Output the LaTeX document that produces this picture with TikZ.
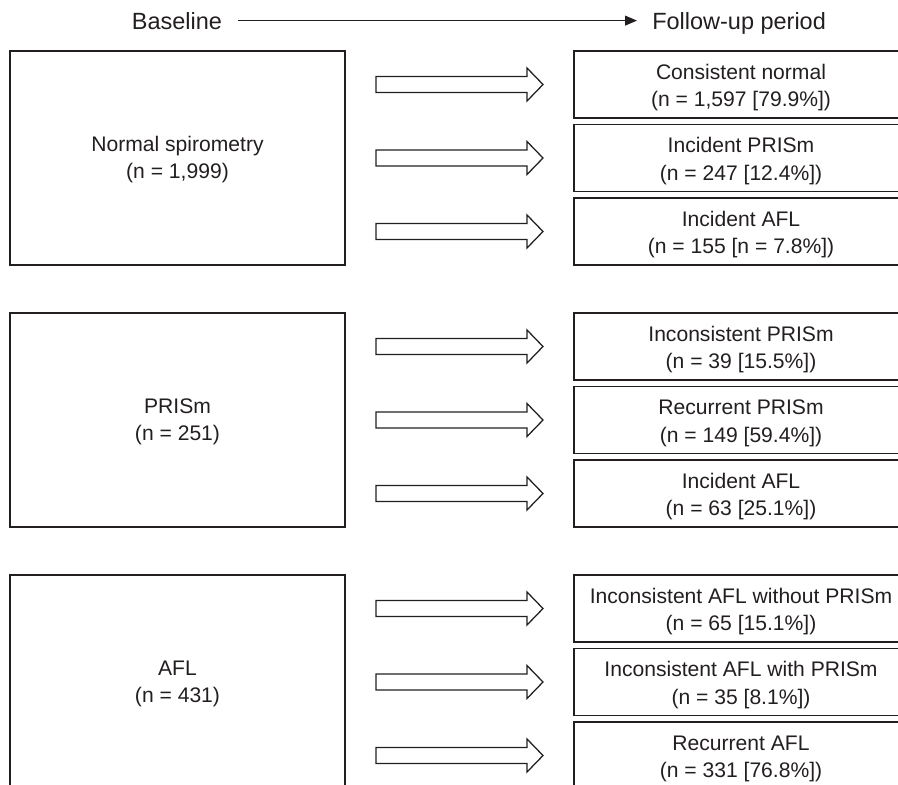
\documentclass[tikz,border=0pt]{standalone}
\usepackage{fontspec}
\setmainfont{Liberation Sans}
\usepackage{tikz}
\usetikzlibrary{arrows.meta,positioning}
\definecolor{tinta}{RGB}{35,31,32}
\tikzset{
  inicio/.style={rectangle,draw=tinta,line width=0.9pt,text=tinta,
    minimum width=8.375cm,minimum height=5.35cm,inner sep=0pt,align=center,
    text height=29.4pt,text depth=0pt,font=\fontsize{15}{19}\selectfont},
  desfecho/.style={rectangle,draw=tinta,line width=0.9pt,text=tinta,
    minimum width=8.35cm,minimum height=1.675cm,inner sep=0pt,align=center,
    text height=31.4pt,text depth=0pt,font=\fontsize{15}{19.4}\selectfont},
  titulo/.style={inner sep=0pt,text=tinta,font=\fontsize{16.7}{20}\selectfont},
  seta/.style={-{Triangle[length=8.5pt,width=7pt]},line width=0.9pt,tinta},
  setabloco/.style={draw=tinta,fill=white,line width=0.9pt,line join=miter}
}
\begin{document}
\begin{tikzpicture}[x=0.025cm,y=-0.025cm]
\useasboundingbox (0,0) rectangle (898,784);
\clip (0,0) rectangle (898,784);
\node[titulo,anchor=base] (base) at (177,29) {Baseline};
\node[titulo,anchor=base west] (seguimento) at (652,29) {Follow-up period};
\draw[seta,shorten <=0.4cm,shorten >=0.375cm] (base.east) -- (base.east -| seguimento.west);

\node[inicio] (normal) at (177.5,158) {Normal spirometry\\(n = 1,999)};
\node[inicio] (prism) at (177.5,420) {PRISm\\(n = 251)};
\node[inicio] (afl) at (177.5,682) {AFL\\(n = 431)};

\node[desfecho] (consist) at (741,84.5) {Consistent normal\\(n = 1,597 [79.9\%])};
\node[desfecho] (incprism) at (741,158) {Incident PRISm\\(n = 247 [12.4\%])};
\node[desfecho] (incafl) at (741,231.5) {Incident AFL\\(n = 155 [n = 7.8\%])};

\node[desfecho] (inconsprism) at (741,346.5) {Inconsistent PRISm\\(n = 39 [15.5\%])};
\node[desfecho] (recprism) at (741,420) {Recurrent PRISm\\(n = 149 [59.4\%])};
\node[desfecho] (incaflb) at (741,493.5) {Incident AFL\\(n = 63 [25.1\%])};

\node[desfecho] (semprism) at (741,608.5) {Inconsistent AFL without PRISm\\(n = 65 [15.1\%])};
\node[desfecho] (comprism) at (741,682) {Inconsistent AFL with PRISm\\(n = 35 [8.1\%])};
\node[desfecho] (recafl) at (741,755.5) {Recurrent AFL\\(n = 331 [76.8\%])};

\foreach \g in {0,262,524}
  \foreach \d in {84.5,158,231.5}{
    \pgfmathsetmacro\yy{\g+\d}
    \draw[setabloco] (376,\yy-8) -- (527,\yy-8) -- (527,\yy-16.5) -- (543,\yy)
      -- (527,\yy+16.5) -- (527,\yy+8) -- (376,\yy+8) -- cycle;
  }
\end{tikzpicture}
\end{document}
